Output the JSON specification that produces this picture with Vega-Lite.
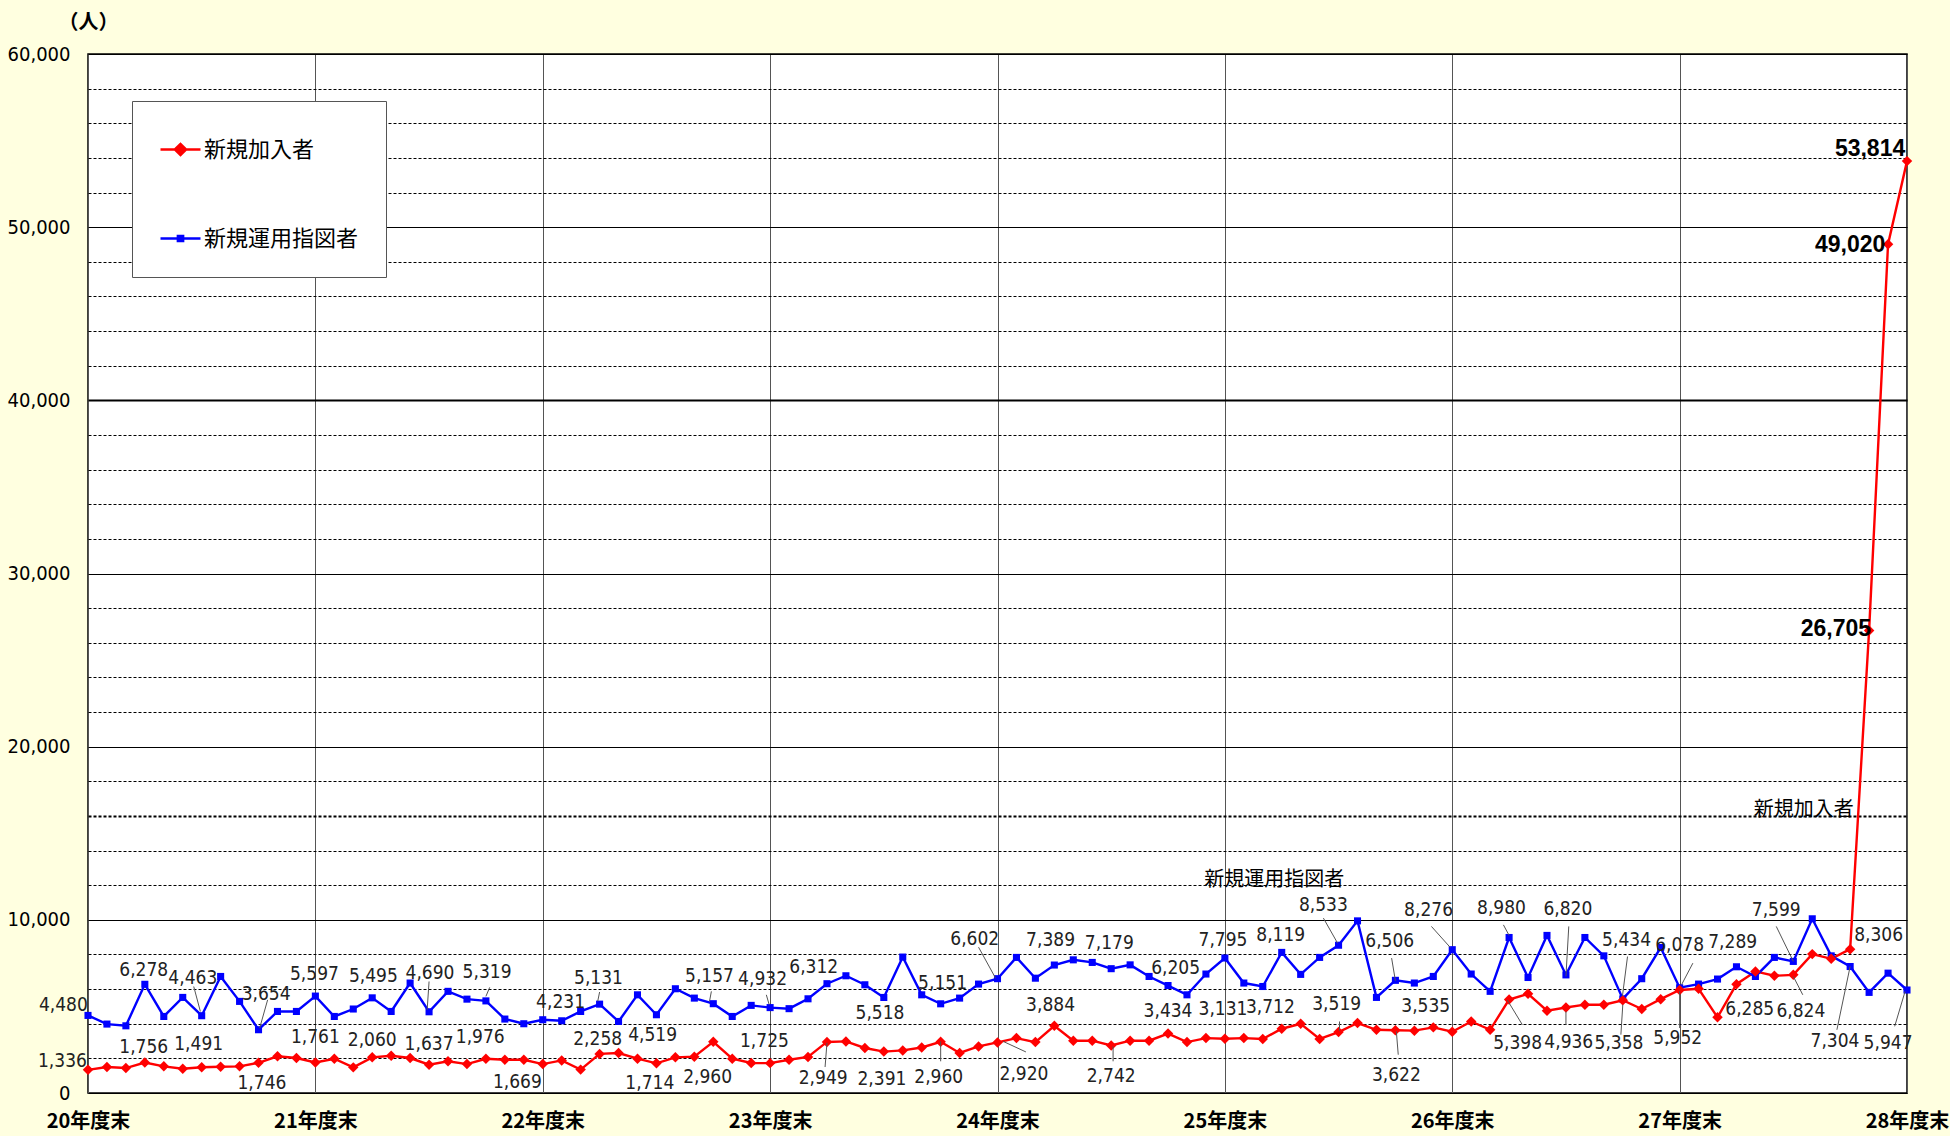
{
  "$schema": "https://vega.github.io/schema/vega-lite/v6.json",
  "width": 1819,
  "height": 1039,
  "autosize": "none",
  "padding": {"left": 88, "top": 54, "right": 43, "bottom": 43},
  "background": "#FFFFE0",
  "config": {
    "view": {"fill": "white", "stroke": "#000", "strokeWidth": 1.5},
    "axis": {"ticks": false, "domain": false}
  },
  "datasets": {
    "series": [
      {"m":0,"新規加入者":1336,"新規運用指図者":4480},
      {"m":1,"新規加入者":1500,"新規運用指図者":3980},
      {"m":2,"新規加入者":1440,"新規運用指図者":3880},
      {"m":3,"新規加入者":1756,"新規運用指図者":6278},
      {"m":4,"新規加入者":1540,"新規運用指図者":4420},
      {"m":5,"新規加入者":1400,"新規運用指図者":5520},
      {"m":6,"新規加入者":1491,"新規運用指図者":4463},
      {"m":7,"新規加入者":1520,"新規運用指図者":6730},
      {"m":8,"新規加入者":1540,"新規運用指図者":5290},
      {"m":9,"新規加入者":1746,"新規運用指図者":3654},
      {"m":10,"新規加入者":2120,"新規運用指図者":4710},
      {"m":11,"新規加入者":2020,"新規運用指図者":4710},
      {"m":12,"新規加入者":1761,"新規運用指図者":5597},
      {"m":13,"新規加入者":1980,"新規運用指図者":4420},
      {"m":14,"新規加入者":1480,"新規運用指図者":4850},
      {"m":15,"新規加入者":2060,"新規運用指図者":5495},
      {"m":16,"新規加入者":2150,"新規運用指図者":4710},
      {"m":17,"新規加入者":2020,"新規運用指図者":6350},
      {"m":18,"新規加入者":1637,"新規運用指図者":4690},
      {"m":19,"新規加入者":1830,"新規運用指図者":5870},
      {"m":20,"新規加入者":1670,"新規運用指図者":5420},
      {"m":21,"新規加入者":1976,"新規運用指図者":5319},
      {"m":22,"新規加入者":1920,"新規運用指図者":4270},
      {"m":23,"新規加入者":1920,"新規運用指図者":4000},
      {"m":24,"新規加入者":1669,"新規運用指図者":4231},
      {"m":25,"新規加入者":1880,"新規運用指図者":4170},
      {"m":26,"新規加入者":1350,"新規運用指図者":4710},
      {"m":27,"新規加入者":2258,"新規運用指図者":5131},
      {"m":28,"新規加入者":2310,"新規運用指図者":4130},
      {"m":29,"新規加入者":1980,"新規運用指図者":5670},
      {"m":30,"新規加入者":1714,"新規運用指図者":4519},
      {"m":31,"新規加入者":2060,"新規運用指図者":6020},
      {"m":32,"新規加入者":2100,"新規運用指図者":5480},
      {"m":33,"新規加入者":2960,"新規運用指図者":5157},
      {"m":34,"新規加入者":1980,"新規運用指図者":4420},
      {"m":35,"新規加入者":1730,"新規運用指図者":5060},
      {"m":36,"新規加入者":1725,"新規運用指図者":4932},
      {"m":37,"新規加入者":1920,"新規運用指図者":4870},
      {"m":38,"新規加入者":2080,"新規運用指図者":5440},
      {"m":39,"新規加入者":2949,"新規運用指図者":6312},
      {"m":40,"新規加入者":2980,"新規運用指図者":6770},
      {"m":41,"新規加入者":2600,"新規運用指図者":6250},
      {"m":42,"新規加入者":2391,"新規運用指図者":5518},
      {"m":43,"新規加入者":2460,"新規運用指図者":7850},
      {"m":44,"新規加入者":2630,"新規運用指図者":5670},
      {"m":45,"新規加入者":2960,"新規運用指図者":5151},
      {"m":46,"新規加入者":2310,"新規運用指図者":5480},
      {"m":47,"新規加入者":2690,"新規運用指図者":6290},
      {"m":48,"新規加入者":2920,"新規運用指図者":6602},
      {"m":49,"新規加入者":3170,"新規運用指図者":7830},
      {"m":50,"新規加入者":2940,"新規運用指図者":6630},
      {"m":51,"新規加入者":3884,"新規運用指図者":7389},
      {"m":52,"新規加入者":3020,"新規運用指図者":7690},
      {"m":53,"新規加入者":3020,"新規運用指図者":7540},
      {"m":54,"新規加入者":2742,"新規運用指図者":7179},
      {"m":55,"新規加入者":3020,"新規運用指図者":7400},
      {"m":56,"新規加入者":3020,"新規運用指図者":6730},
      {"m":57,"新規加入者":3434,"新規運用指図者":6205},
      {"m":58,"新規加入者":2940,"新規運用指図者":5670},
      {"m":59,"新規加入者":3170,"新規運用指図者":6870},
      {"m":60,"新規加入者":3131,"新規運用指図者":7795},
      {"m":61,"新規加入者":3170,"新規運用指図者":6350},
      {"m":62,"新規加入者":3120,"新規運用指図者":6150},
      {"m":63,"新規加入者":3712,"新規運用指図者":8119},
      {"m":64,"新規加入者":4000,"新規運用指図者":6850},
      {"m":65,"新規加入者":3120,"新規運用指図者":7830},
      {"m":66,"新規加入者":3519,"新規運用指図者":8533},
      {"m":67,"新規加入者":4040,"新規運用指図者":9940},
      {"m":68,"新規加入者":3650,"新規運用指図者":5520},
      {"m":69,"新規加入者":3622,"新規運用指図者":6506},
      {"m":70,"新規加入者":3600,"新規運用指図者":6350},
      {"m":71,"新規加入者":3790,"新規運用指図者":6730},
      {"m":72,"新規加入者":3535,"新規運用指図者":8276},
      {"m":73,"新規加入者":4130,"新規運用指図者":6870},
      {"m":74,"新規加入者":3650,"新規運用指図者":5870},
      {"m":75,"新規加入者":5398,"新規運用指図者":8980},
      {"m":76,"新規加入者":5730,"新規運用指図者":6670},
      {"m":77,"新規加入者":4750,"新規運用指図者":9100},
      {"m":78,"新規加入者":4936,"新規運用指図者":6820},
      {"m":79,"新規加入者":5100,"新規運用指図者":8980},
      {"m":80,"新規加入者":5100,"新規運用指図者":7920},
      {"m":81,"新規加入者":5358,"新規運用指図者":5434},
      {"m":82,"新規加入者":4850,"新規運用指図者":6600},
      {"m":83,"新規加入者":5420,"新規運用指図者":8400},
      {"m":84,"新規加入者":5952,"新規運用指図者":6078},
      {"m":85,"新規加入者":6020,"新規運用指図者":6290},
      {"m":86,"新規加入者":4370,"新規運用指図者":6580},
      {"m":87,"新規加入者":6285,"新規運用指図者":7289},
      {"m":88,"新規加入者":7020,"新規運用指図者":6730},
      {"m":89,"新規加入者":6770,"新規運用指図者":7830},
      {"m":90,"新規加入者":6824,"新規運用指図者":7599},
      {"m":91,"新規加入者":8020,"新規運用指図者":10060},
      {"m":92,"新規加入者":7750,"新規運用指図者":7920},
      {"m":93,"新規加入者":8306,"新規運用指図者":7304},
      {"m":94,"新規加入者":26705,"新規運用指図者":5810},
      {"m":95,"新規加入者":49020,"新規運用指図者":6920},
      {"m":96,"新規加入者":53814,"新規運用指図者":5947}
    ],
    "labels": [
      {"m":-1.3,"v":5100,"t":"4,480"},
      {"m":-1.35,"v":1850,"t":"1,336"},
      {"m":2.94,"v":7115,"t":"6,278"},
      {"m":5.53,"v":6630,"t":"4,463"},
      {"m":9.4,"v":5730,"t":"3,654"},
      {"m":11.95,"v":6870,"t":"5,597"},
      {"m":15.06,"v":6730,"t":"5,495"},
      {"m":18.05,"v":6920,"t":"4,690"},
      {"m":21.06,"v":6980,"t":"5,319"},
      {"m":24.94,"v":5250,"t":"4,231"},
      {"m":26.94,"v":6630,"t":"5,131"},
      {"m":29.8,"v":3330,"t":"4,519"},
      {"m":32.8,"v":6770,"t":"5,157"},
      {"m":35.6,"v":6580,"t":"4,932"},
      {"m":38.3,"v":7270,"t":"6,312"},
      {"m":41.8,"v":4620,"t":"5,518"},
      {"m":45.1,"v":6380,"t":"5,151"},
      {"m":46.8,"v":8900,"t":"6,602"},
      {"m":50.8,"v":8850,"t":"7,389"},
      {"m":53.9,"v":8650,"t":"7,179"},
      {"m":57.4,"v":7210,"t":"6,205"},
      {"m":59.9,"v":8850,"t":"7,795"},
      {"m":62.95,"v":9130,"t":"8,119"},
      {"m":65.2,"v":10870,"t":"8,533"},
      {"m":68.7,"v":8790,"t":"6,506"},
      {"m":70.75,"v":10580,"t":"8,276"},
      {"m":74.6,"v":10670,"t":"8,980"},
      {"m":78.1,"v":10630,"t":"6,820"},
      {"m":81.2,"v":8850,"t":"5,434"},
      {"m":84.0,"v":8520,"t":"6,078"},
      {"m":86.8,"v":8710,"t":"7,289"},
      {"m":89.1,"v":10580,"t":"7,599"},
      {"m":92.2,"v":2980,"t":"7,304"},
      {"m":95.0,"v":2880,"t":"5,947"},
      {"m":2.94,"v":2630,"t":"1,756"},
      {"m":5.84,"v":2830,"t":"1,491"},
      {"m":9.18,"v":577,"t":"1,746"},
      {"m":12.0,"v":3210,"t":"1,761"},
      {"m":15.0,"v":3080,"t":"2,060"},
      {"m":18.0,"v":2850,"t":"1,637"},
      {"m":20.7,"v":3210,"t":"1,976"},
      {"m":22.66,"v":615,"t":"1,669"},
      {"m":26.9,"v":3130,"t":"2,258"},
      {"m":29.65,"v":577,"t":"1,714"},
      {"m":32.7,"v":900,"t":"2,960"},
      {"m":35.7,"v":3020,"t":"1,725"},
      {"m":38.8,"v":865,"t":"2,949"},
      {"m":41.9,"v":810,"t":"2,391"},
      {"m":44.9,"v":900,"t":"2,960"},
      {"m":49.4,"v":1100,"t":"2,920"},
      {"m":50.8,"v":5100,"t":"3,884"},
      {"m":54.0,"v":1000,"t":"2,742"},
      {"m":57.0,"v":4710,"t":"3,434"},
      {"m":59.9,"v":4850,"t":"3,131"},
      {"m":62.4,"v":4960,"t":"3,712"},
      {"m":65.9,"v":5130,"t":"3,519"},
      {"m":69.05,"v":1060,"t":"3,622"},
      {"m":70.6,"v":5000,"t":"3,535"},
      {"m":75.45,"v":2880,"t":"5,398"},
      {"m":78.15,"v":2940,"t":"4,936"},
      {"m":80.8,"v":2880,"t":"5,358"},
      {"m":83.9,"v":3170,"t":"5,952"},
      {"m":87.7,"v":4850,"t":"6,285"},
      {"m":90.4,"v":4710,"t":"6,824"},
      {"m":94.5,"v":9100,"t":"8,306"}
    ],
    "big": [
      {"m":94.05,"v":54500,"t":"53,814"},
      {"m":93.0,"v":48950,"t":"49,020"},
      {"m":92.25,"v":26780,"t":"26,705"}
    ],
    "notes": [
      {"m":62.6,"v":12300,"t":"新規運用指図者"},
      {"m":90.55,"v":16340,"t":"新規加入者"}
    ],
    "leaders": [
      {"m":5.58,"v":6150,"m2":5.93,"v2":4710},
      {"m":9.48,"v":5380,"m2":9.06,"v2":3750},
      {"m":18.0,"v":6440,"m2":17.9,"v2":4810},
      {"m":21.2,"v":6100,"m2":21.0,"v2":5580},
      {"m":27.0,"v":5830,"m2":26.9,"v2":5290},
      {"m":32.9,"v":5870,"m2":32.8,"v2":5290},
      {"m":35.8,"v":5670,"m2":35.95,"v2":5100},
      {"m":47.0,"v":8420,"m2":47.9,"v2":6630},
      {"m":39.0,"v":2900,"m2":38.9,"v2":1500},
      {"m":45.0,"v":2980,"m2":45.0,"v2":1830},
      {"m":48.3,"v":2980,"m2":49.5,"v2":2370},
      {"m":54.1,"v":2690,"m2":54.1,"v2":1830},
      {"m":65.2,"v":10100,"m2":65.95,"v2":8650},
      {"m":66.05,"v":4130,"m2":66.05,"v2":3600},
      {"m":68.8,"v":7790,"m2":69.0,"v2":6480},
      {"m":70.9,"v":9620,"m2":71.9,"v2":8400},
      {"m":69.05,"v":3560,"m2":69.15,"v2":2210},
      {"m":74.7,"v":9710,"m2":75.0,"v2":9100},
      {"m":78.15,"v":9620,"m2":78.0,"v2":6730},
      {"m":75.7,"v":3940,"m2":74.9,"v2":5380},
      {"m":78.0,"v":3940,"m2":78.0,"v2":4710},
      {"m":81.25,"v":7880,"m2":80.98,"v2":5580},
      {"m":80.9,"v":3370,"m2":81.0,"v2":5100},
      {"m":84.7,"v":7500,"m2":84.1,"v2":6250},
      {"m":84.0,"v":3750,"m2":84.0,"v2":5870},
      {"m":89.1,"v":9620,"m2":90.0,"v2":7600},
      {"m":90.5,"v":5670,"m2":90.0,"v2":6730},
      {"m":92.3,"v":3650,"m2":93.0,"v2":7310},
      {"m":95.35,"v":3850,"m2":95.9,"v2":5870}
    ]
  },
  "encoding": {
    "x": {
      "field": "m", "type": "quantitative",
      "scale": {"domain": [0, 96], "nice": false, "zero": false},
      "axis": {
        "title": null,
        "values": [0, 12, 24, 36, 48, 60, 72, 84, 96],
        "tickCount": 50,
        "labelExpr": "(20 + datum.value / 12) + '年度末'",
        "grid": true, "gridColor": "#555", "gridWidth": 1,
        "labelFont": "Noto Sans CJK JP", "labelFontSize": 20, "labelFontWeight": "bold",
        "labelColor": "#000", "labelPadding": 18, "labelOverlap": false, "labelFlush": false, "labelBound": false
      }
    }
  },
  "layer": [
    {
      "data": {"name": "series"},
      "transform": [{"fold": ["新規加入者", "新規運用指図者"], "as": ["s", "v"]}],
      "mark": {"type": "line", "strokeWidth": 2.4},
      "encoding": {
        "y": {
          "field": "v", "type": "quantitative",
          "scale": {"domain": [0, 60000], "nice": false},
          "axis": {
            "title": "（人）", "titleAngle": 0, "titleX": 0, "titleY": -32, "titleAlign": "center", "titleBaseline": "middle",
            "titleFont": "Noto Sans CJK JP", "titleFontSize": 20, "titleFontWeight": "bold", "titleColor": "#000",
            "values": [0,2000,4000,6000,8000,10000,12000,14000,16000,18000,20000,22000,24000,26000,28000,30000,32000,34000,36000,38000,40000,42000,44000,46000,48000,50000,52000,54000,56000,58000,60000],
            "tickCount": 100,
            "labelOverlap": false,
            "labelExpr": "datum.value % 10000 === 0 ? format(datum.value, ',') : ''",
            "labelFont": "Liberation Sans Narrow, DejaVu Sans Condensed, sans-serif", "labelFontSize": 20, "labelColor": "#000",
            "labelPadding": 18,
            "grid": true, "gridColor": "#000", "gridOpacity": 1,
            "gridDash": {"condition": {"test": "datum.value % 10000 === 0", "value": []}, "value": [3, 2]},
            "gridWidth": {"condition": {"test": "datum.value === 40000 || datum.value === 16000", "value": 2}, "value": 1}
          }
        },
        "color": {
          "field": "s", "type": "nominal",
          "scale": {"domain": ["新規加入者", "新規運用指図者"], "range": ["#FF0000", "#0000FF"]},
          "legend": {
            "title": null, "orient": "none", "legendX": 44, "legendY": 47,
            "fillColor": "white", "strokeColor": "#555", "padding": 27,
            "labelFont": "Noto Sans CJK JP", "labelFontSize": 22, "labelColor": "#000", "labelOffset": 2,
            "symbolSize": 1600, "symbolStrokeWidth": 2.5, "rowPadding": 56,
            "symbolType": "M-1,0H1M-0.28,0L0,-0.28L0.28,0L0,0.28Z",
            "encode": {
              "symbols": {
                "update": {
                  "fill": {"scale": "color", "field": "value"},
                  "stroke": {"scale": "color", "field": "value"},
                  "shape": {"signal": "datum.value === '新規加入者' ? 'M-1,0H1M-0.28,0L0,-0.28L0.28,0L0,0.28Z' : 'M-1,0H1M-0.13,-0.13H0.13V0.13H-0.13Z'"}
                }
              }
            }
          }
        }
      }
    },
    {
      "data": {"name": "series"},
      "mark": {"type": "point", "shape": "square", "filled": true, "size": 50, "color": "#0000FF", "opacity": 1},
      "encoding": {"y": {"field": "新規運用指図者", "type": "quantitative"}}
    },
    {
      "data": {"name": "series"},
      "mark": {"type": "point", "shape": "diamond", "filled": true, "size": 110, "color": "#FF0000", "opacity": 1},
      "encoding": {"y": {"field": "新規加入者", "type": "quantitative"}}
    },
    {
      "data": {"name": "leaders"},
      "mark": {"type": "rule", "color": "#555", "strokeWidth": 1},
      "encoding": {
        "y": {"field": "v", "type": "quantitative"},
        "x2": {"field": "m2"},
        "y2": {"field": "v2"}
      }
    },
    {
      "data": {"name": "labels"},
      "mark": {"type": "text", "font": "Liberation Sans Narrow, DejaVu Sans Condensed, sans-serif", "fontSize": 19, "color": "#222", "baseline": "middle", "align": "center"},
      "encoding": {
        "y": {"field": "v", "type": "quantitative"},
        "text": {"field": "t"}
      }
    },
    {
      "data": {"name": "big"},
      "mark": {"type": "text", "font": "Liberation Sans, Arial, sans-serif", "fontSize": 23, "fontWeight": "bold", "color": "#000", "baseline": "middle", "align": "center"},
      "encoding": {
        "y": {"field": "v", "type": "quantitative"},
        "text": {"field": "t"}
      }
    },
    {
      "data": {"name": "notes"},
      "mark": {"type": "text", "font": "Noto Sans CJK JP", "fontSize": 20, "color": "#000", "baseline": "middle", "align": "center"},
      "encoding": {
        "y": {"field": "v", "type": "quantitative"},
        "text": {"field": "t"}
      }
    }
  ]
}
